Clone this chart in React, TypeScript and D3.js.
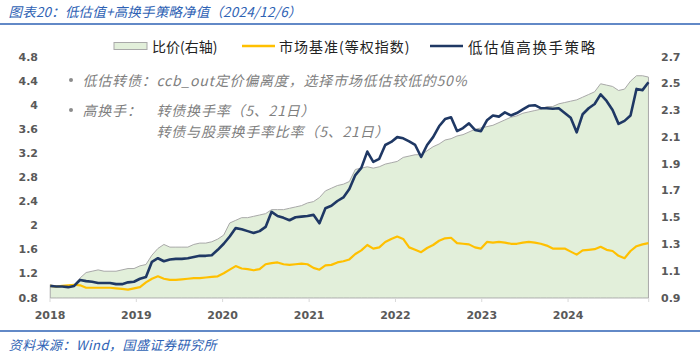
import React from 'react';
import * as d3 from 'd3';

const startDate = '2018-01-02';
const endDate = '2024-12-06';

// 低估值高换手策略 (left axis)
const strategy = [
  1.00, 0.99, 0.99, 0.98, 1.00, 1.10, 1.08, 1.07, 1.05, 1.05,
  1.05, 1.03, 1.03, 1.06, 1.07, 1.12, 1.15, 1.40, 1.46, 1.41,
  1.44, 1.45, 1.45, 1.46, 1.48, 1.50, 1.50, 1.51, 1.60, 1.70,
  1.82, 1.96, 1.94, 1.91, 1.88, 1.91, 1.98, 2.23, 2.16, 2.13,
  2.09, 2.14, 2.15, 2.16, 2.18, 2.04, 2.29, 2.33, 2.41, 2.47,
  2.61, 2.84, 2.96, 3.23, 3.06, 3.11, 3.34, 3.39, 3.47, 3.45,
  3.40, 3.34, 3.14, 3.34, 3.47, 3.65, 3.77, 3.80, 3.57, 3.62,
  3.70, 3.59, 3.57, 3.75, 3.83, 3.81, 3.88, 3.83, 3.87, 3.93,
  3.99, 4.00, 3.95, 3.95, 3.94, 3.95, 3.87, 3.79, 3.55, 3.85,
  3.95, 4.02, 4.18, 4.07, 3.92, 3.69, 3.74, 3.83, 4.27, 4.25,
  4.38,
];

// 市场基准(等权指数) (left axis)
const benchmark = [
  1.00, 0.99, 1.00, 1.01, 1.02, 1.01, 0.97, 0.97, 0.97, 0.97,
  0.97, 0.96, 0.95, 0.94, 0.96, 0.98, 1.06, 1.12, 1.16, 1.12,
  1.10, 1.10, 1.11, 1.12, 1.13, 1.13, 1.14, 1.15, 1.16, 1.21,
  1.27, 1.33, 1.29, 1.28, 1.26, 1.28, 1.36, 1.38, 1.39, 1.36,
  1.35, 1.36, 1.37, 1.36, 1.30, 1.27, 1.34, 1.35, 1.39, 1.41,
  1.44, 1.53, 1.59, 1.68, 1.62, 1.64, 1.73, 1.78, 1.82, 1.78,
  1.64, 1.60, 1.56, 1.63, 1.68, 1.75, 1.79, 1.80, 1.71, 1.70,
  1.69, 1.64, 1.62, 1.73, 1.72, 1.73, 1.72, 1.70, 1.70, 1.72,
  1.73, 1.72, 1.70, 1.67, 1.62, 1.62, 1.62, 1.57, 1.52, 1.59,
  1.60, 1.61, 1.65, 1.60, 1.58, 1.50, 1.46, 1.58, 1.66, 1.69,
  1.71,
];

// 比价(右轴)
const ratio = [
  1.00, 0.99, 0.99, 0.99, 1.00, 1.05, 1.09, 1.10, 1.11, 1.10,
  1.10, 1.10, 1.11, 1.12, 1.12, 1.14, 1.15, 1.22, 1.27, 1.30,
  1.28, 1.28, 1.28, 1.28, 1.30, 1.31, 1.31, 1.32, 1.34, 1.37,
  1.46, 1.48, 1.50, 1.50, 1.51, 1.52, 1.53, 1.56, 1.56, 1.56,
  1.57, 1.58, 1.59, 1.61, 1.62, 1.65, 1.70, 1.72, 1.74, 1.75,
  1.77, 1.86, 1.87, 1.88, 1.87, 1.88, 1.90, 1.91, 1.92, 1.95,
  1.96, 1.97, 1.97, 2.00, 2.03, 2.05, 2.08, 2.09, 2.11, 2.12,
  2.14, 2.16, 2.17, 2.18, 2.19, 2.21, 2.23, 2.25, 2.26, 2.28,
  2.29, 2.30, 2.31, 2.33, 2.33, 2.35, 2.36, 2.37, 2.38, 2.40,
  2.42, 2.44, 2.50, 2.49, 2.48, 2.45, 2.46, 2.52, 2.56, 2.56,
  2.55,
];

const leftTicks = [0.8, 1.2, 1.6, 2, 2.4, 2.8, 3.2, 3.6, 4, 4.4, 4.8];
const rightTicks = [0.9, 1.1, 1.3, 1.5, 1.7, 1.9, 2.1, 2.3, 2.5, 2.7];
const yearTicks = ['2018', '2019', '2020', '2021', '2022', '2023', '2024'];
const legendLabels = ['比价(右轴)', '市场基准(等权指数)', '低估值高换手策略'];
const titleText = '图表20：低估值+高换手策略净值（2024/12/6）';
const sourceText = '资料来源：Wind，国盛证券研究所';
const noteLine1 = '低估转债：ccb_out定价偏离度，选择市场低估较低的50%';
const noteLine2a = '高换手：';
const noteLine2b = '转债换手率（5、21日）';
const noteLine3 = '转债与股票换手率比率（5、21日）';

const COL_NAVY = '#1f3864';
const COL_YELLOW = '#ffc000';
const COL_AREA = '#e2efda';
const COL_AREA_STROKE = '#a9a9a9';
const COL_BLUE = '#2e62b4';
const AXIS_TEXT = '#595959';
const CJK = '"Noto Sans CJK SC", sans-serif';
const NUM = '"DejaVu Sans", Verdana, sans-serif';

function Slanted(props: { x: number; y: number; size: number; fill: string; spacing?: number; children: React.ReactNode }) {
  const { x, y, size, fill, spacing = 0, children } = props;
  return (
    <g transform={`translate(${x},${y}) skewX(-14)`}>
      <text x={0} y={0} dominantBaseline="central" fontFamily={CJK} fontSize={size} fill={fill} letterSpacing={spacing}>
        {children}
      </text>
    </g>
  );
}

export default function App() {
  const W = 700, H = 355;
  const left = 50, right = 648.7, top = 57, bottom = 298;
  const parse = d3.timeParse('%Y-%m-%d');
  const t0 = parse(startDate) as Date;
  const t1 = parse(endDate) as Date;
  const n = strategy.length;
  const dates = d3.range(n).map((i) => new Date(+t0 + ((+t1 - +t0) * i) / (n - 1)));

  const x = d3.scaleTime().domain([new Date(2018, 0, 1), new Date(2024, 11, 7)]).range([left, right]);
  const yL = d3.scaleLinear().domain([0.8, 4.8]).range([bottom, top]);
  const yR = d3.scaleLinear().domain([0.9, 2.7]).range([bottom, top]);

  const area = d3.area<number>()
    .x((_, i) => x(dates[i]))
    .y0(yR(0.9))
    .y1((d) => yR(d));
  const lineL = d3.line<number>()
    .x((_, i) => x(dates[i]))
    .y((d) => yL(d));

  const yearPos = yearTicks.map((yr) => x(new Date(+yr, 0, 1)));

  return (
    <svg width={W} height={H} style={{ position: 'absolute', left: 0, top: 0, background: '#fff' }}>
      {/* title */}
      <Slanted x={10} y={11} size={13.5} fill={COL_BLUE} spacing={0.2}>{titleText}</Slanted>
      <line x1={0} x2={W} y1={24} y2={24} stroke={COL_BLUE} strokeWidth={1.6} />

      {/* legend */}
      <rect x={114} y={42.5} width={33} height={7} fill={COL_AREA} stroke={COL_AREA_STROKE} strokeWidth={1} />
      <text x={152} y={46} dominantBaseline="central" fontFamily={CJK} fontSize={14} fill="#222">{legendLabels[0]}</text>
      <line x1={242} x2={275} y1={46} y2={46} stroke={COL_YELLOW} strokeWidth={2.5} />
      <text x={279} y={46} dominantBaseline="central" fontFamily={CJK} fontSize={14} letterSpacing={1} fill="#222">{legendLabels[1]}</text>
      <line x1={430} x2={463} y1={46} y2={46} stroke={COL_NAVY} strokeWidth={2.5} />
      <text x={468} y={46} dominantBaseline="central" fontFamily={CJK} fontSize={14.5} letterSpacing={1.6} fill="#222">{legendLabels[2]}</text>

      {/* plot */}
      <path d={area(ratio) || ''} fill={COL_AREA} stroke={COL_AREA_STROKE} strokeWidth={1} />
      <path d={lineL(benchmark) || ''} fill="none" stroke={COL_YELLOW} strokeWidth={2.2} strokeLinejoin="round" />
      <path d={lineL(strategy) || ''} fill="none" stroke={COL_NAVY} strokeWidth={2.6} strokeLinejoin="round" />

      {/* x axis */}
      <line x1={left} x2={right} y1={bottom + 0.5} y2={bottom + 0.5} stroke="#d9d9d9" strokeWidth={1} />
      {yearPos.map((px, i) => (
        <line key={'t' + i} x1={px} x2={px} y1={bottom} y2={bottom + 4} stroke="#d9d9d9" />
      ))}
      <line x1={right} x2={right} y1={bottom} y2={bottom + 4} stroke="#d9d9d9" />
      {yearTicks.map((yr, i) => (
        <text key={yr} x={yearPos[i]} y={315} textAnchor="middle" dominantBaseline="central" fontFamily={NUM} fontWeight="bold" fontSize={11} fill={AXIS_TEXT}>
          {yr}
        </text>
      ))}

      {/* left axis */}
      {leftTicks.map((v) => (
        <text key={'l' + v} x={38} y={yL(v)} textAnchor="end" dominantBaseline="central" fontFamily={NUM} fontWeight="bold" fontSize={11} fill={AXIS_TEXT}>
          {d3.format('~g')(v)}
        </text>
      ))}
      {/* right axis */}
      {rightTicks.map((v) => (
        <text key={'r' + v} x={661} y={yR(v)} textAnchor="start" dominantBaseline="central" fontFamily={NUM} fontWeight="bold" fontSize={11} fill={AXIS_TEXT}>
          {d3.format('.1f')(v)}
        </text>
      ))}

      {/* notes */}
      <circle cx={71} cy={80} r={2} fill="#8c8c8c" />
      <Slanted x={84} y={80} size={14} fill="#808080" spacing={0.8}>{noteLine1}</Slanted>
      <circle cx={71} cy={110} r={2} fill="#8c8c8c" />
      <Slanted x={84} y={110} size={14} fill="#808080" spacing={0.8}>{noteLine2a}</Slanted>
      <Slanted x={158} y={110} size={14} fill="#808080" spacing={0.8}>{noteLine2b}</Slanted>
      <Slanted x={158} y={131} size={14} fill="#808080" spacing={0.8}>{noteLine3}</Slanted>

      {/* footer */}
      <line x1={0} x2={W} y1={331} y2={331} stroke={COL_BLUE} strokeWidth={1.6} />
      <Slanted x={10} y={345} size={13} fill={COL_BLUE} spacing={0.5}>{sourceText}</Slanted>
    </svg>
  );
}
